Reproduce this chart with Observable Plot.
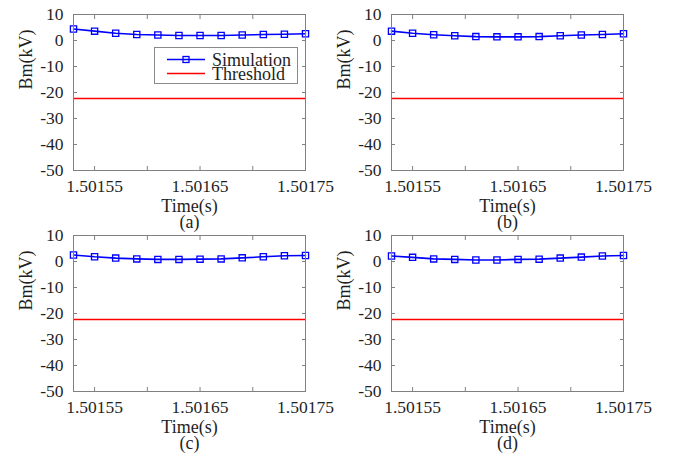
<!DOCTYPE html>
<html><head><meta charset="utf-8">
<script src="https://cdn.jsdelivr.net/npm/d3@7"></script>
<script src="https://cdn.jsdelivr.net/npm/@observablehq/plot@0.6"></script>
<style>
body{margin:0;background:#fff;}
#root{position:relative;width:675px;height:456px;font-family:"Liberation Serif","Times New Roman",Times,serif;color:#1f1f1f;}
.panel{position:absolute;}
.panel text{font-family:"Liberation Serif","Times New Roman",Times,serif;}
#legend{position:absolute;left:154px;top:47px;width:142px;height:35px;border:1px solid #8a8a8a;background:#fff;}
#legend text{font-family:"Liberation Serif","Times New Roman",Times,serif;font-size:18px;}
</style></head><body><div id="root"></div>
<script>
const times = [1.50153,1.50155,1.50157,1.50159,1.50161,1.50163,1.50165,1.50167,1.50169,1.50171,1.50173,1.50175];
const simA = [4.4,3.6,2.8,2.3,2.1,1.9,1.9,1.9,2.1,2.3,2.4,2.6];
const simB = [3.6,2.8,2.2,1.8,1.5,1.4,1.4,1.5,1.8,2.1,2.3,2.6];
const simC = [2.5,1.8,1.3,1.0,0.8,0.8,0.9,1.0,1.4,1.8,2.2,2.3];
const simD = [2.1,1.6,1.0,0.8,0.6,0.6,0.8,0.9,1.3,1.7,2.1,2.3];
const threshold = -22.3;
const xTicks = [1.50155,1.5016,1.50165,1.5017,1.50175];
const xTickLabels = ["1.50155","","1.50165","","1.50175"];
const yTicks = [10,0,-10,-20,-30,-40,-50];
const captions = ["(a)","(b)","(c)","(d)"];
const seriesNames = ["Simulation","Threshold"];

const FRAME = "#808080", TEXT = "#1f1f1f";

function panel(sim, cap) {
  const data = times.map((t, i) => ({t, v: sim[i]}));
  return Plot.plot({
    width: 337, height: 228,
    marginLeft: 73, marginRight: 32, marginTop: 14, marginBottom: 58,
    style: {fontFamily: '"Liberation Serif","Times New Roman",Times,serif', fontSize: "17.5px", color: TEXT, background: "transparent", overflow: "visible"},
    x: {domain: [1.50153, 1.50175]},
    y: {domain: [-50, 10]},
    marks: [
      Plot.ruleY([threshold], {stroke: "#ff0000", strokeWidth: 1.6}),
      Plot.line(data, {x: "t", y: "v", stroke: "#0000ff", strokeWidth: 1.6}),
      Plot.dot(data, {x: "t", y: "v", symbol: "square", r: 3.5, stroke: "#0000ff", fill: "none", strokeWidth: 1.3}),
      Plot.frame({stroke: FRAME}),
      Plot.axisX(xTicks, {anchor: "bottom", tickSize: -4, tickPadding: 13, label: null, stroke: FRAME, fill: TEXT, fontSize: 17.5,
        tickFormat: d => xTickLabels[xTicks.indexOf(d)] ?? ""}),
      Plot.axisX(xTicks, {anchor: "top", tickSize: -4, text: null, label: null, stroke: FRAME}),
      Plot.axisY(yTicks, {anchor: "left", tickSize: -4, tickPadding: 14, label: null, stroke: FRAME, fill: TEXT, fontSize: 17.5,
        tickFormat: d => String(d)}),
      Plot.axisY(yTicks, {anchor: "right", tickSize: -4, text: null, label: null, stroke: FRAME}),
      Plot.text(["Bm(kV)"], {text: d => d, frameAnchor: "left", rotate: -90, dx: -47, dy: -3, fill: TEXT, fontSize: 18}),
      Plot.text(["Time(s)"], {text: d => d, frameAnchor: "bottom", dy: 41, fill: TEXT, fontSize: 18}),
      Plot.text([cap], {text: d => d, frameAnchor: "bottom", dy: 57, fill: TEXT, fontSize: 18})
    ]
  });
}

const root = document.getElementById("root");
const positions = [[0,0],[318,0],[0,221],[318,221]];
[simA, simB, simC, simD].forEach((s, i) => {
  const el = panel(s, captions[i]);
  el.classList.add("panel");
  el.style.left = positions[i][0] + "px";
  el.style.top = positions[i][1] + "px";
  root.appendChild(el);
});

// legend for panel (a)
const lg = document.createElement("div");
lg.id = "legend";
lg.innerHTML = `<svg width="142" height="35" style="position:absolute;left:0;top:0;overflow:visible">
  <line x1="12" x2="50" y1="11.5" y2="11.5" stroke="#0000ff" stroke-width="1.6"/>
  <rect x="28" y="8.5" width="6" height="6" fill="none" stroke="#0000ff" stroke-width="1.3"/>
  <line x1="12" x2="50" y1="25.5" y2="25.5" stroke="#ff0000" stroke-width="1.6"/>
  <text x="57" y="11.5" dominant-baseline="central" fill="${TEXT}">${seriesNames[0]}</text>
  <text x="57" y="26" dominant-baseline="central" fill="${TEXT}">${seriesNames[1]}</text>
</svg>`;
root.appendChild(lg);
</script>
</body></html>
